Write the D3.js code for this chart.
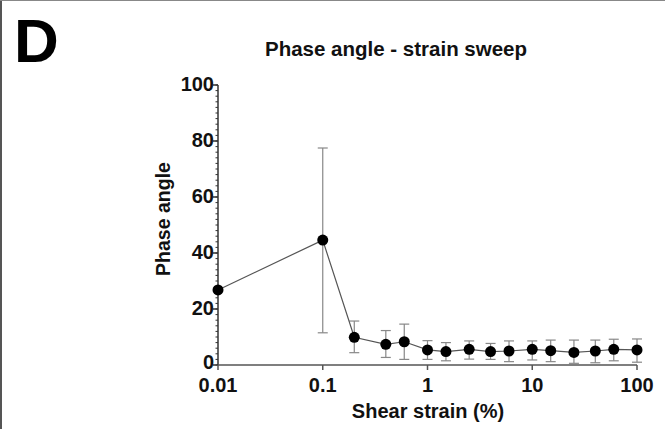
<!DOCTYPE html>
<html>
<head>
<meta charset="utf-8">
<script src="https://cdn.jsdelivr.net/npm/d3@7"></script>
<style>
  body { margin: 0; background: #fff; }
  svg { display: block; font-family: "Liberation Sans", Arial, sans-serif; }
</style>
</head>
<body>
<svg id="chart" width="665" height="429"></svg>
<script>
const strain = [0.01, 0.1, 0.2, 0.4, 0.6, 1, 1.5, 2.5, 4, 6, 10, 15, 25, 40, 60, 100];
const phase = [26.8, 44.6, 9.9, 7.4, 8.3, 5.4, 4.8, 5.6, 4.8, 5.0, 5.6, 5.1, 4.5, 5.0, 5.6, 5.4];
const errLow = [26.8, 11.5, 4.4, 2.7, 2.0, 2.0, 1.5, 2.1, 2.0, 1.2, 1.8, 1.2, 0.6, 0.8, 1.5, 1.0];
const errHigh = [26.8, 77.5, 15.7, 12.3, 14.6, 8.7, 8.0, 8.6, 7.7, 8.6, 8.6, 8.9, 8.9, 8.9, 9.2, 9.3];
const xTicks = [0.01, 0.1, 1, 10, 100];
const xTickLabels = ["0.01", "0.1", "1", "10", "100"];
const yTicks = [0, 20, 40, 60, 80, 100];

const data = strain.map((s, i) => ({ x: s, y: phase[i], lo: errLow[i], hi: errHigh[i] }));

const svg = d3.select("#chart");

// frame edges
svg.append("rect").attr("x", 0).attr("y", 0).attr("width", 2).attr("height", 429).attr("fill", "#555");
svg.append("rect").attr("x", 0).attr("y", 0).attr("width", 665).attr("height", 1).attr("fill", "#888");

const x = d3.scaleLog().domain([0.01, 100]).range([218, 637]);
const y = d3.scaleLinear().domain([0, 100]).range([365, 85]);

// panel letter and title
svg.append("text")
  .attr("x", 14).attr("y", 62)
  .style("font-size", "62px").style("font-weight", "bold")
  .text("D");

svg.append("text")
  .attr("x", 396).attr("y", 56)
  .attr("text-anchor", "middle")
  .style("font-size", "20.5px").style("font-weight", "bold")
  .attr("fill", "#111")
  .text("Phase angle - strain sweep");

// y axis
const yAxis = svg.append("g").attr("transform", `translate(${x.range()[0]},0)`);
yAxis.append("line")
  .attr("x1", 0).attr("x2", 0).attr("y1", y(0)).attr("y2", y(100))
  .attr("stroke", "#333").attr("stroke-width", 1.5);
yAxis.selectAll(".minor")
  .data(d3.range(0, 101, 2))
  .enter().append("line")
  .attr("x1", -2.5).attr("x2", 0)
  .attr("y1", d => y(d)).attr("y2", d => y(d))
  .attr("stroke", "#333").attr("stroke-width", 1);
yAxis.selectAll(".major")
  .data(yTicks)
  .enter().append("line")
  .attr("x1", -5).attr("x2", 0)
  .attr("y1", d => y(d)).attr("y2", d => y(d))
  .attr("stroke", "#333").attr("stroke-width", 1.5);
yAxis.selectAll(".lbl")
  .data(yTicks)
  .enter().append("text")
  .attr("x", -4).attr("y", d => y(d) - (d === 0 ? 3 : 1))
  .attr("dy", "0.36em")
  .attr("text-anchor", "end")
  .style("font-size", "20px").style("font-weight", "bold")
  .attr("fill", "#111")
  .text(d => d);

// x axis
const xAxis = svg.append("g").attr("transform", `translate(0,${y(0)})`);
xAxis.append("line")
  .attr("x1", x.range()[0]).attr("x2", x.range()[1])
  .attr("stroke", "#555").attr("stroke-width", 1.5);
xAxis.selectAll(".tick")
  .data(xTicks)
  .enter().append("line")
  .attr("x1", d => x(d)).attr("x2", d => x(d))
  .attr("y1", 0).attr("y2", 5)
  .attr("stroke", "#555").attr("stroke-width", 1.5);
xAxis.selectAll(".lbl")
  .data(xTicks)
  .enter().append("text")
  .attr("x", d => x(d)).attr("y", 27)
  .attr("text-anchor", "middle")
  .style("font-size", "20px").style("font-weight", "bold")
  .attr("fill", "#111")
  .text((d, i) => xTickLabels[i]);

// axis titles
svg.append("text")
  .attr("transform", "translate(170,219) rotate(-90)")
  .attr("text-anchor", "middle")
  .style("font-size", "19.5px").style("font-weight", "bold")
  .attr("fill", "#111")
  .text("Phase angle");

svg.append("text")
  .attr("x", 428).attr("y", 418)
  .attr("text-anchor", "middle")
  .style("font-size", "20px").style("font-weight", "bold")
  .attr("fill", "#111")
  .text("Shear strain (%)");

// error bars
const eb = svg.append("g").attr("stroke", "#888").attr("stroke-width", 1.2);
const withErr = data.filter(d => d.hi > d.lo);
eb.selectAll(".v")
  .data(withErr)
  .enter().append("line")
  .attr("x1", d => x(d.x)).attr("x2", d => x(d.x))
  .attr("y1", d => y(d.lo)).attr("y2", d => y(d.hi));
eb.selectAll(".capHi")
  .data(withErr)
  .enter().append("line")
  .attr("x1", d => x(d.x) - 5).attr("x2", d => x(d.x) + 5)
  .attr("y1", d => y(d.hi)).attr("y2", d => y(d.hi));
eb.selectAll(".capLo")
  .data(withErr)
  .enter().append("line")
  .attr("x1", d => x(d.x) - 5).attr("x2", d => x(d.x) + 5)
  .attr("y1", d => y(d.lo)).attr("y2", d => y(d.lo));

// line
const line = d3.line().x(d => x(d.x)).y(d => y(d.y));
svg.append("path")
  .datum(data)
  .attr("d", line)
  .attr("fill", "none")
  .attr("stroke", "#555")
  .attr("stroke-width", 1.2);

// points
svg.selectAll(".pt")
  .data(data)
  .enter().append("circle")
  .attr("cx", d => x(d.x)).attr("cy", d => y(d.y))
  .attr("r", 5.5)
  .attr("fill", "#000");
</script>
</body>
</html>
